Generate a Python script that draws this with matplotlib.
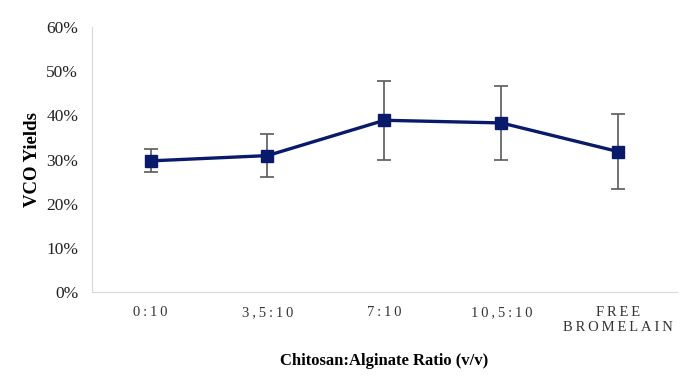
import matplotlib.pyplot as plt
from matplotlib.ticker import PercentFormatter

categories = ['0:10', '3,5:10', '7:10', '10,5:10', 'FREE\nBROMELAIN']
yields = [29.7, 30.9, 38.9, 38.3, 31.8]
errors = [2.6, 4.9, 9.0, 8.4, 8.5]

plt.rcParams['font.family'] = ['Liberation Serif', 'DejaVu Serif']


def spaced(text):
    # letter-spaced tick labels like the original
    return '\n'.join('\u2009'.join(line) for line in text.split('\n'))


fig = plt.figure(figsize=(6.92, 3.77), dpi=100)
ax = fig.add_axes([0.133, 0.2255, 0.845, 0.7025])

x = range(len(categories))
ax.errorbar(x, yields, yerr=errors, color='#0a1a6b', lw=2.4, marker='s',
            markersize=8, ecolor='#5a5a5a', elinewidth=1.2, capsize=5,
            capthick=1.2, zorder=3)

ax.set_xlim(-0.5, len(categories) - 0.5)
ax.set_ylim(0, 60)
ax.set_yticks(range(0, 61, 10))
ax.yaxis.set_major_formatter(PercentFormatter(decimals=0))
ax.set_xticks(list(x))
ax.set_xticklabels([spaced(c) for c in categories], fontsize=10.5, color='#333333',
                   linespacing=1.2)
ax.tick_params(axis='y', labelsize=12.5, colors='#222222', length=0, pad=10)
ax.tick_params(axis='x', length=0, pad=10)

for s in ['top', 'right']:
    ax.spines[s].set_visible(False)
for s in ['left', 'bottom']:
    ax.spines[s].set_color('#d9d9d9')

ax.set_ylabel('VCO Yields', fontsize=13.5, fontweight='bold', labelpad=4)
ax.set_xlabel('Chitosan:Alginate Ratio (v/v)', fontsize=12, fontweight='bold', labelpad=14)

fig.savefig('out.png', dpi=100)
